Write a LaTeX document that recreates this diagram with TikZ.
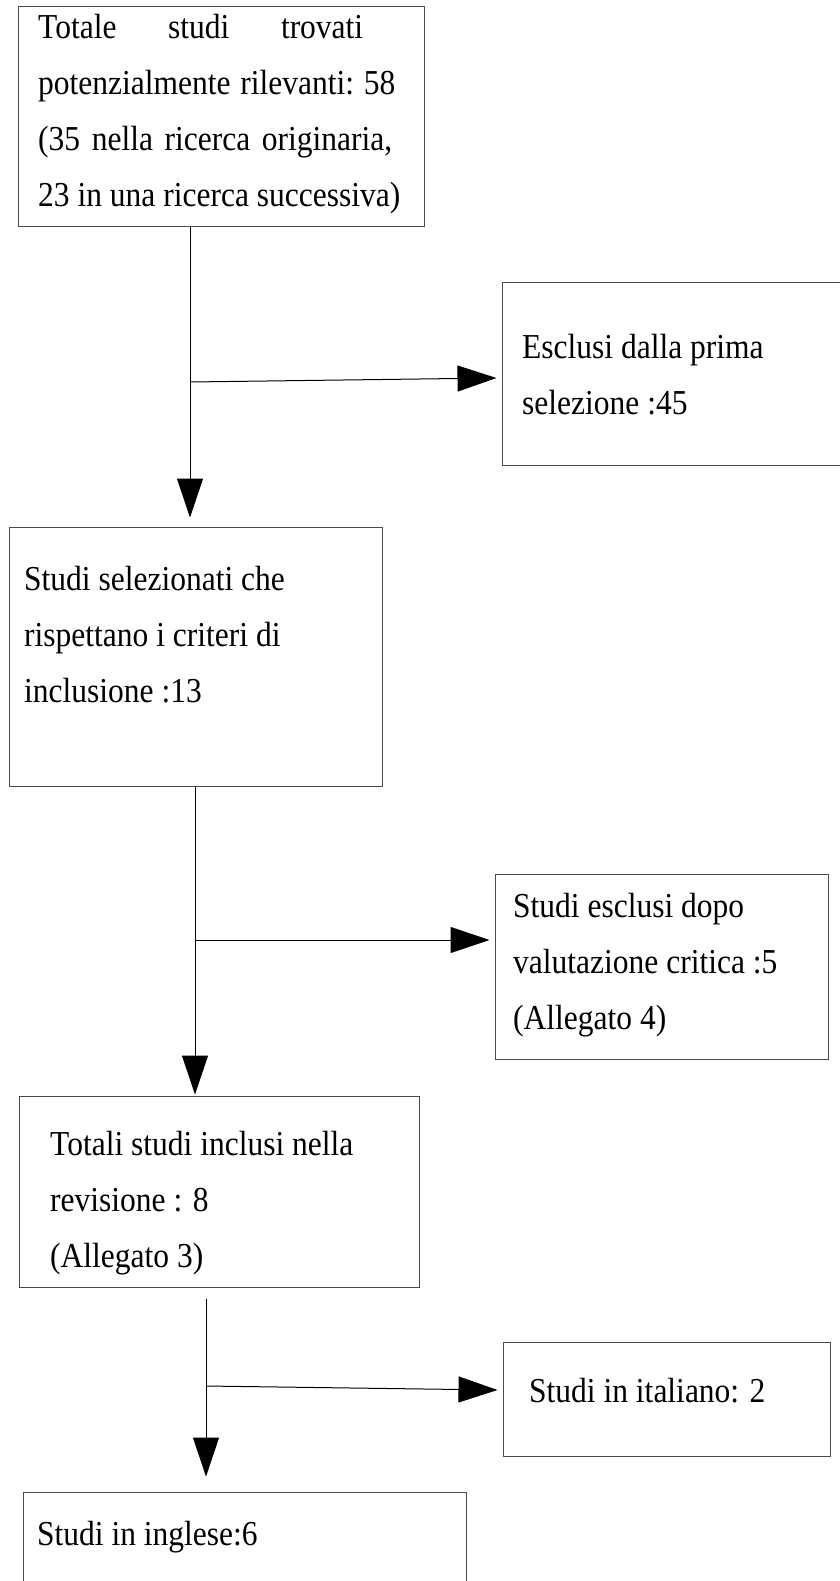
\documentclass[tikz,border=0pt]{standalone}
\usepackage{fontspec}
\setmainfont{Liberation Serif}[FakeStretch=0.9]
\usetikzlibrary{arrows.meta,calc}
\begin{document}
\begin{tikzpicture}[x=1pt,y=-1pt,
  box/.style={draw=black!70, line width=1pt, inner sep=0pt, rectangle},
  txt/.style={anchor=north west, inner sep=0pt, align=left, font=\fontsize{35}{56}\selectfont},
  link/.style={draw=black, line width=1pt},
  arr/.style={link, -{Triangle[length=39pt,width=26pt]}}]
\useasboundingbox (0,0) rectangle (839,1581);

% boxes
\node[box, minimum width=406pt, minimum height=219pt] (b1) at (221,116.5) {};
\node[box, minimum width=342pt, minimum height=183pt] (b2) at (673,373.5) {};
\node[box, minimum width=373pt, minimum height=259pt] (b3) at (195.5,656.5) {};
\node[box, minimum width=333pt, minimum height=185pt] (b4) at (661.5,966.5) {};
\node[box, minimum width=400pt, minimum height=191pt] (b5) at (219,1191.5) {};
\node[box, minimum width=327pt, minimum height=114pt] (b6) at (666.5,1399) {};
\node[box, minimum width=443pt, minimum height=108pt] (b7) at (244.5,1546) {};

% texts (first baseline = y + 39.2)
\node[txt] (t1) at (38,-1.2) {\strut\hbox to 325pt{Totale\hfill studi\hfill trovati}\\
  \hbox to 357pt{potenzialmente\hfill rilevanti:\hfill 58}\\
  \hbox to 354pt{(35\hfill nella\hfill ricerca\hfill originaria,}\\
  23 in una ricerca successiva)};
\node[txt] (t2) at (522,318.8) {\strut Esclusi dalla prima\\ selezione :45};
\node[txt] (t3) at (24,550.8) {\strut Studi selezionati che\\ rispettano i criteri di\\ inclusione :13};
\node[txt] (t4) at (513,877.8) {\strut Studi esclusi dopo\\ valutazione critica :5\\ (Allegato 4)};
\node[txt] (t5) at (50,1115.8) {\strut Totali studi inclusi nella\\ revisione : 8\\ (Allegato 3)};
\node[txt] (t6) at (529,1362.8) {\strut Studi in italiano: 2};
\node[txt] (t7) at (37,1505.8) {\strut Studi in inglese:6};

% connectors
\coordinate (j1) at (190,382);
\draw[link] (b1.south -| j1) -- (j1);
\draw[arr, shorten >=9pt] (j1) -- (b3.north -| j1);
\draw[arr] (j1) -- ($(b2.west)+(-5,4.5)$);

\coordinate (j2) at (195,940);
\draw[link] (b3.south -| j2) -- (j2);
\draw[arr, shorten >=1pt] (j2) -- (b5.north -| j2);
\draw[arr] (j2) -- ($(b4.west)+(-5,-26.5)$);

\coordinate (j3) at (206,1386);
\draw[link, shorten <=11pt] (b5.south -| j3) -- (j3);
\draw[arr, shorten >=15pt] (j3) -- (b7.north -| j3);
\draw[arr] (j3) -- ($(b6.west)+(-5,-9)$);
\end{tikzpicture}
\end{document}
